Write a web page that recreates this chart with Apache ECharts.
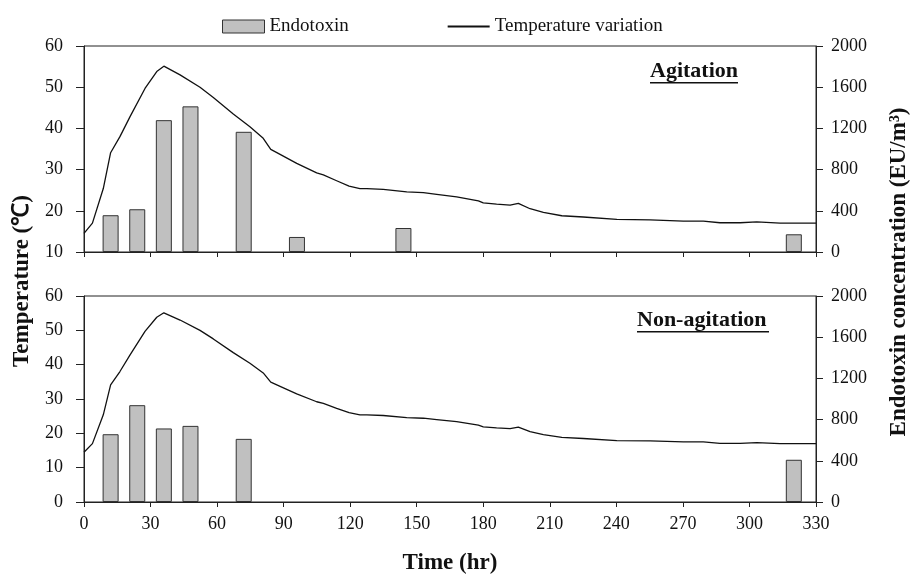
<!DOCTYPE html>
<html>
<head>
<meta charset="utf-8">
<script src="https://cdn.jsdelivr.net/npm/echarts@6/dist/echarts.min.js"></script>
<style>html,body{margin:0;padding:0;background:#fff;}#c{width:913px;height:575px;}</style>
</head>
<body>
<div id="c"></div>
<script>
// ---- data ----
const timeHr = [0,3.8,8.7,12,16.2,20.7,27.5,32.8,36,43.3,52.3,58.3,67.3,74.8,80.8,84.2,88.4,95.9,104.9,107.9,113.9,119.5,124.4,127.5,134.9,145.5,153,159,168,177.8,180,186,192.1,195.8,201.1,207.1,215.4,225.1,240.2,255.2,270.2,279.2,286.7,295.8,303.3,313.8,330];
const tempC = [14.5,17.0,25.4,34.1,38.0,42.8,49.7,53.8,55.1,53.0,50.0,47.5,43.5,40.4,37.6,34.9,33.7,31.5,29.2,28.7,27.3,26.0,25.4,25.4,25.2,24.6,24.4,24.0,23.4,22.4,21.9,21.6,21.4,21.8,20.5,19.6,18.8,18.5,17.9,17.8,17.5,17.5,17.1,17.1,17.3,17.0,17.0];
const barTimeHr = [12,24,36,48,72,96,144,320];
const endotoxinAgitation = [357,415,1280,1414,1167,146,233,172];
const endotoxinNonAgitation = [658,940,714,739,613,null,null,410];
const xTicks = {min:0, max:330, interval:30};
const panelNames = ['Agitation','Non-agitation'];

const FONT = 'Liberation Serif, Times New Roman, serif';
const pair = (xs, ys) => xs.map((x,i) => [x, ys[i]]);

const chart = echarts.init(document.getElementById('c'));
const axisLine = {show:true, lineStyle:{color:'#222', width:1}};
const tick = (len) => ({show:true, inside:false, length:len, lineStyle:{color:'#222'}});
const lbl = (m) => ({color:'#111', fontFamily:FONT, fontSize:18, margin:m, formatter:(v) => String(v)});

const grids = [
  {left:84, right:97, top:46, height:206, outerBoundsMode:'none', containLabel:false, show:true, borderColor:'#222', borderWidth:1, backgroundColor:'transparent'},
  {left:84, right:97, top:296, height:206, outerBoundsMode:'none', containLabel:false, show:true, borderColor:'#222', borderWidth:1, backgroundColor:'transparent'}
];

const xAxes = [0,1].map(i => ({
  type:'value', gridIndex:i, min:xTicks.min, max:xTicks.max, interval:xTicks.interval,
  axisLine, axisTick:tick(5), splitLine:{show:false},
  axisLabel: i===1 ? lbl(13) : {show:false},
  name: i===1 ? 'Time (hr)' : '', nameLocation:'middle', nameGap:50,
  nameTextStyle:{fontFamily:FONT, fontSize:23, fontWeight:'bold', color:'#111'}
}));

const yAxes = [
  {type:'value', gridIndex:0, position:'left', min:10, max:60, interval:10, axisLine, axisTick:tick(8), splitLine:{show:false}, axisLabel:lbl(21)},
  {type:'value', gridIndex:0, position:'right', min:0, max:2000, interval:400, axisLine, axisTick:tick(7), splitLine:{show:false}, axisLabel:lbl(15)},
  {type:'value', gridIndex:1, position:'left', min:0, max:60, interval:10, axisLine, axisTick:tick(8), splitLine:{show:false}, axisLabel:lbl(21)},
  {type:'value', gridIndex:1, position:'right', min:0, max:2000, interval:400, axisLine, axisTick:tick(7), splitLine:{show:false}, axisLabel:lbl(15)}
];

const barStyle = {color:'#c0c0c0', borderColor:'#333', borderWidth:1};
const lineStyle = {color:'#111', width:1.3};

const series = [
  {name:'Endotoxin', type:'bar', xAxisIndex:0, yAxisIndex:1, barWidth:16, itemStyle:barStyle, data:pair(barTimeHr, endotoxinAgitation), z:2},
  {name:'Temperature variation', type:'line', xAxisIndex:0, yAxisIndex:0, showSymbol:false, symbol:'none', lineStyle, itemStyle:{color:'#111'}, data:pair(timeHr, tempC), z:3},
  {name:'Endotoxin', type:'bar', xAxisIndex:1, yAxisIndex:3, barWidth:16, itemStyle:barStyle, data:pair(barTimeHr, endotoxinNonAgitation).filter(d => d[1] !== null), z:2},
  {name:'Temperature variation', type:'line', xAxisIndex:1, yAxisIndex:2, showSymbol:false, symbol:'none', lineStyle, itemStyle:{color:'#111'}, data:pair(timeHr, tempC), z:3}
];

const panelLabel = (txt, x, y, w) => ([
  {type:'text', left:x, top:y-13, style:{text:txt, fontFamily:FONT, fontSize:22, fontWeight:'bold', fill:'#111'}},
  {type:'rect', left:x, top:y+9, shape:{width:w, height:1.6}, style:{fill:'#111'}}
]);

chart.setOption({
  animation:false,
  backgroundColor:'#fff',
  legend:{
    left:217, top:12, itemGap:98, itemWidth:42, itemHeight:13,
    data:[
      {name:'Endotoxin', icon:'rect', itemStyle:barStyle},
      {name:'Temperature variation', itemStyle:{color:'transparent', borderColor:'transparent', borderWidth:0}}
    ],
    textStyle:{fontFamily:FONT, fontSize:19, color:'#111'}
  },
  grid:grids, xAxis:xAxes, yAxis:yAxes, series,
  graphic:[
    {type:'text', x:22, y:281, rotation:Math.PI/2,
     style:{text:'Temperature (\u2103)', fontFamily:FONT, fontSize:23, fontWeight:'bold', fill:'#111', align:'center', verticalAlign:'middle'}},
    {type:'text', x:899, y:272, rotation:Math.PI/2,
     style:{text:'Endotoxin concentration (EU/m\u00b3)', fontFamily:FONT, fontSize:23, fontWeight:'bold', fill:'#111', align:'center', verticalAlign:'middle'}},
    ...panelLabel(panelNames[0], 650, 73, 88),
    ...panelLabel(panelNames[1], 637, 322, 132)
  ]
});
</script>
</body>
</html>
